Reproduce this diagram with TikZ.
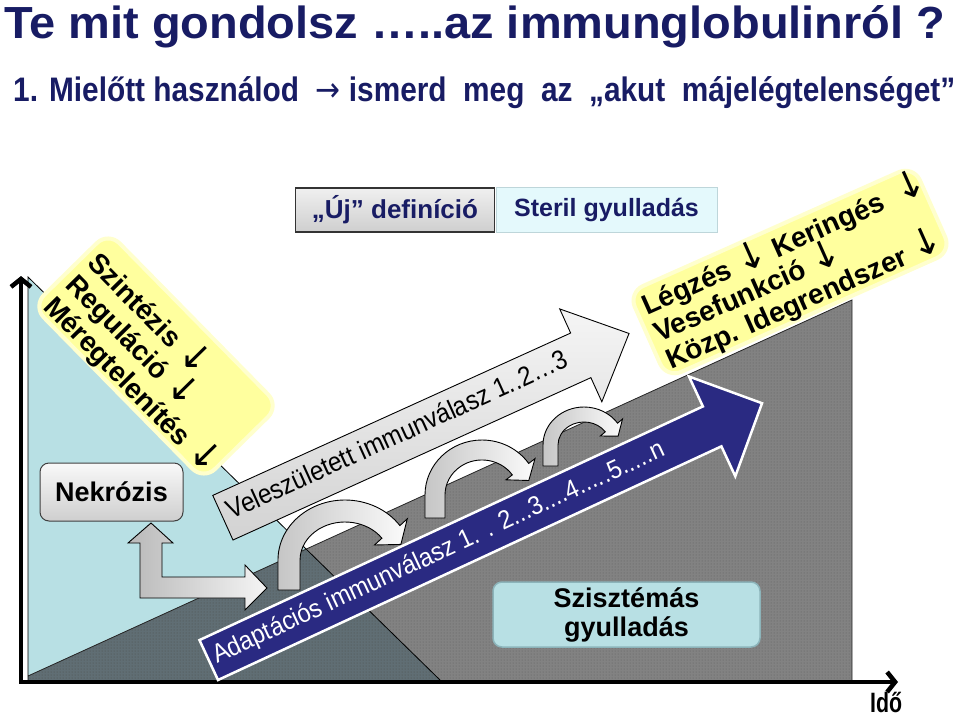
\documentclass[tikz,border=0pt]{standalone}
\usepackage{fontspec}
\usepackage{graphicx}
\setmainfont{Liberation Sans}
\newfontfamily\arrfont{DejaVu Sans}
\usetikzlibrary{arrows.meta,patterns}
\definecolor{navyt}{RGB}{24,28,100}
\definecolor{navyarr}{RGB}{42,42,130}
\definecolor{lblue}{RGB}{184,224,228}
\definecolor{slate}{RGB}{96,110,116}
\definecolor{midgray}{RGB}{130,130,130}
\definecolor{dotgray}{RGB}{95,95,95}
\definecolor{ylw}{RGB}{255,255,158}
\definecolor{ylwedge}{RGB}{255,255,205}
\definecolor{cyanlt}{RGB}{228,249,252}
\definecolor{cyanedge}{RGB}{190,214,218}
\definecolor{szedge}{RGB}{140,180,186}
\newcommand\dn{\scalebox{1.35}{\arrfont\mdseries ↓}}
\tikzset{
  axisline/.style={line width=4.5pt, line cap=rect, -{Straight Barb[length=8pt,width=20pt]}},
  blockarrow/.style={draw=black, line width=0.9pt},
  curvarrow/.style={draw=black, line width=0.9pt, left color=gray!45, right color=gray!3},
  ybox/.style={rounded corners=16pt, fill=ylw, draw=ylwedge, line width=4pt},
  ytext/.style={anchor=base west, inner sep=0pt, font=\fontsize{#1}{#1}\selectfont\bfseries},
  arrtext/.style={anchor=base west, inner sep=0pt, font=\fontsize{#1}{#1}\selectfont},
}
\begin{document}
\begin{tikzpicture}[x=1pt,y=-1pt]
\useasboundingbox (0,0) rectangle (960,717);
% background areas
\fill[lblue] (28,277) -- (28,680) -- (440,680) -- cycle;
\fill[midgray] (28,676) -- (852,300) -- (852,680) -- (28,680) -- cycle;
\fill[pattern=dots, pattern color=dotgray] (28,676) -- (852,300) -- (852,680) -- (28,680) -- cycle;
\begin{scope}
\clip (28,676) -- (852,300) -- (852,680) -- (28,680) -- cycle;
\fill[slate] (28,277) -- (28,680) -- (440,680) -- cycle;
\fill[pattern=dots, pattern color=black!70] (28,277) -- (28,680) -- (440,680) -- cycle;
\end{scope}
\draw[black!85, line width=0.8pt] (28,676) -- (852,300) -- (852,680);
\draw[black, line width=0.8pt] (440,680) -- (28,277) -- (28,680);
% axes
\coordinate (orig) at (21,682);
\coordinate (ytip) at (21,276);
\coordinate (xtip) at (898,682);
\draw[axisline] (orig) -- (ytip);
\draw[axisline] (orig) -- (xtip);
% elbow arrow to Nekrozis
\draw[blockarrow, left color=gray!55, right color=gray!8] (151,523) -- (173,543) -- (162,543) -- (162,577) -- (245,577) -- (245,565) -- (267,588) -- (245,610) -- (245,598) -- (140,598) -- (140,543) -- (128,543) -- cycle;
\node[draw=black!75, line width=1pt, rounded corners=9pt, top color=gray!5, bottom color=gray!38, minimum width=143pt, minimum height=58pt, font=\fontsize{27}{30}\selectfont\bfseries] (nekr) at (111.5,492) {Nekrózis};
% innate arrow
\begin{scope}[shift={(233,540)}, rotate=24.4, yscale=-1]
\draw[blockarrow, top color=gray!8, bottom color=gray!35] (0,0) -- (393,0) -- (393,-26.5) -- (446,24.5) -- (393,75.5) -- (393,49) -- (0,49) -- cycle;
\node[arrtext=27, rotate=24.4] (innate) at (7,19) {\scalebox{0.9}[1]{Veleszületett immunválasz 1..2…3}};
\end{scope}
% curved arrows
\draw[curvarrow] (278,590) -- (278,560) arc[start angle=-180, end angle=-35, x radius=67, y radius=60] -- (407.3,518.8) -- (400.9,544.4) -- (374.5,545) -- (381.9,538.2) arc[start angle=-35, end angle=-180, x radius=45, y radius=38] -- (300,590) -- cycle;
\draw[curvarrow] (425,518) -- (425,495) arc[start angle=-180, end angle=-35, x radius=57, y radius=55] -- (535,458.6) -- (528.8,480.5) -- (506,479.8) -- (512.3,474.9) arc[start angle=-35, end angle=-180, x radius=37, y radius=35] -- (445,518) -- cycle;
\draw[curvarrow] (543,466) -- (543,445) arc[start angle=-180, end angle=-35, x radius=41, y radius=38] -- (622.5,419) -- (618.1,436.2) -- (600.3,436) -- (605.3,431.8) arc[start angle=-35, end angle=-180, x radius=26, y radius=23] -- (558,466) -- cycle;
% adaptive arrow
\begin{scope}[shift={(218,680)}, rotate=24.9, yscale=-1]
\draw[draw=white, line width=2.5pt, fill=navyarr] (0,0) -- (555,0) -- (555,-33) -- (610,22) -- (555,77) -- (555,44) -- (0,44) -- cycle;
\node[arrtext=26, rotate=24.9, text=white] (adapt) at (6,15) {\scalebox{0.92}[1]{Adaptációs immunválasz 1. . 2...3....4.....5.....n}};
\end{scope}
% yellow boxes
\node[ybox, rotate=-45.5, minimum width=244pt, minimum height=106pt] (yleft) at (156,356) {};
\node[ytext=28, rotate=-45.5] (szint) at (86,264) {Szintézis \dn};
\node[ytext=28, rotate=-45.5] (regul) at (64,286) {Reguláció \dn};
\node[ytext=28, rotate=-45.5] (mereg) at (42,308) {Méregtelenítés \dn};
\node[ybox, rotate=24, minimum width=312pt, minimum height=94pt] (yright) at (790,272) {};
\node[ytext=28, rotate=24] (legz) at (647,316) {Légzés \dn{} Keringés\ \ \dn};
\node[ytext=28, rotate=24] (vese) at (659,343) {Vesefunkció \dn};
\node[ytext=28, rotate=24] (kozp) at (671,370) {Közp. Idegrendszer \dn};
% boxes
\node[rounded corners=9pt, fill=lblue, draw=szedge, line width=1.5pt, minimum width=267pt, minimum height=65pt, align=center, font=\fontsize{27}{29}\selectfont\bfseries] (szisz) at (626.5,614.5) {Szisztémás\\gyulladás};
\node[draw=black!80, line width=1.2pt, top color=gray!12, bottom color=gray!38, minimum width=199pt, minimum height=44pt, inner sep=0pt, text=navyt, font=\fontsize{26}{28}\selectfont\bfseries] (uj) at (395,210) {„Új” definíció};
\node[draw=cyanedge, line width=1pt, fill=cyanlt, minimum width=221pt, minimum height=45pt, inner sep=0pt, text=navyt, font=\fontsize{25}{28}\selectfont\bfseries] (steril) at (606.5,209.5) {Steril gyulladás};
% titles
\node[anchor=base west, inner sep=0pt, text=navyt, font=\fontsize{45}{50}\selectfont\bfseries] (title) at (4,38) {\resizebox{941pt}{\height}{Te mit gondolsz …..az immunglobulinról ?}};
\node[anchor=base west, inner sep=0pt, text=navyt, font=\fontsize{34}{36}\selectfont\bfseries] (sub) at (13,101) {\resizebox{942pt}{\height}{1. Mielőtt használod\ \ {\arrfont\mdseries →}\ ismerd\ \ meg\ \ az\ \ „akut\ \ májelégtelenséget”}};
\node[anchor=base west, inner sep=0pt, font=\fontsize{28}{30}\selectfont\bfseries] (ido) at (870,712) {\resizebox{32pt}{\height}{Idő}};
\end{tikzpicture}
\end{document}
